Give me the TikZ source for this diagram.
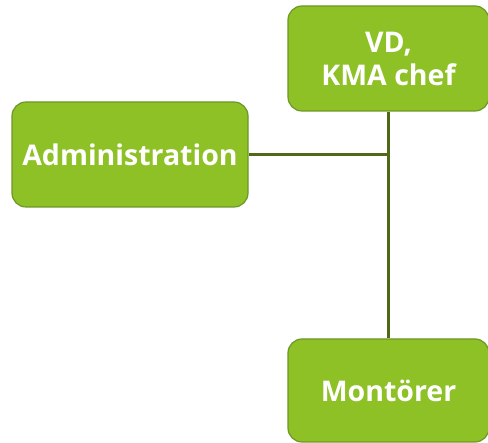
\documentclass[tikz,border=0pt]{standalone}
\usepackage{fontspec}
\setmainfont{Open Sans}
\definecolor{boxfill}{RGB}{142,193,38}
\definecolor{boxdraw}{RGB}{110,150,40}
\definecolor{linkcol}{RGB}{80,105,25}
\begin{document}
\begin{tikzpicture}[x=1pt,y=1pt,
  orgbox/.style={draw=boxdraw,line width=1.2pt,fill=boxfill,rounded corners=14pt,
    text=white,font=\bfseries\fontsize{28.5}{33}\selectfont,align=center,inner sep=0pt},
  link/.style={draw=linkcol,line width=2.2pt}]
\useasboundingbox (0,0) rectangle (488,-443);
\node[orgbox,minimum width=201pt,minimum height=105pt] (vd) at (388.5,-58.5) {VD,\\KMA chef};
\node[orgbox,minimum width=236pt,minimum height=105pt] (admin) at (130,-154.5) {Administration};
\node[orgbox,minimum width=201pt,minimum height=103pt] (mont) at (388.5,-390.5) {Montörer};
\draw[link] (vd.south) -- (mont.north);
\draw[link] (admin.east) -- (admin.east -| vd.south);
\end{tikzpicture}
\end{document}
